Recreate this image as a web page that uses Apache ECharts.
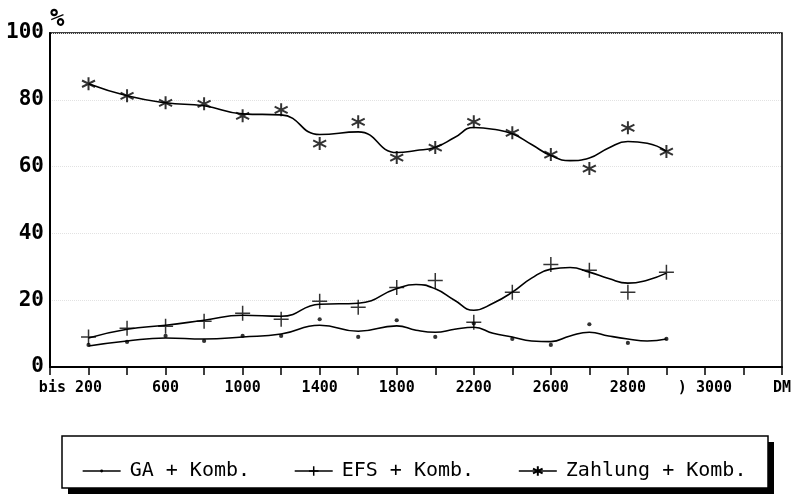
<!DOCTYPE html>
<html>
<head>
<meta charset="utf-8">
<script src="https://cdn.jsdelivr.net/npm/echarts@6/dist/echarts.min.js"></script>
<style>
  html, body { margin: 0; padding: 0; background: #fff; }
  #chart { width: 800px; height: 503px; }
</style>
</head>
<body>
<div id="chart"></div>
<script>
// positions on the income axis (one step = 200 DM)
const xPos = [1, 2, 3, 4, 5, 6, 7, 8, 9, 10, 11, 12, 13, 14, 15, 16];
// tick labels, index = position on the axis ("200" sits on the tick, "bis" hangs left)
const xTickLabels = ['', 'bis 200    ', '', '600', '', '1000', '', '1400', '', '1800', '', '2200', '', '2600', '', '2800', '', ') 3000', '', 'DM'];
const yTicks = [0, 20, 40, 60, 80, 100];

const seriesNames = ['GA + Komb.', 'EFS + Komb.', 'Zahlung + Komb.'];

// measured points
const gaPoints = [6.6, 7.5, 9.3, 7.8, 9.3, 9.3, 14.3, 9.0, 14.0, 9.0, 13.0, 8.4, 6.6, 12.8, 7.2, 8.4];
const efsPoints = [9.0, 11.6, 12.2, 13.7, 16.1, 14.3, 19.7, 17.9, 23.8, 25.9, 13.4, 22.4, 30.7, 29.0, 22.4, 28.4];
const zahlungPoints = [84.8, 81.2, 79.1, 78.8, 75.2, 77.0, 66.9, 73.4, 62.7, 65.7, 73.4, 70.1, 63.6, 59.4, 71.6, 64.5];

const curveX = [1, 2, 3, 4, 5, 6, 7, 8, 9, 9.5, 10, 10.5, 11, 11.5, 12, 12.5, 13, 13.5, 14, 14.5, 15, 15.5, 16];
const gaCurve = [6.3, 7.8, 8.7, 8.4, 9.0, 9.9, 12.5, 10.7, 12.3, 11.0, 10.4, 11.3, 11.9, 10.1, 9.0, 7.8, 7.6, 9.3, 10.4, 9.3, 8.4, 7.8, 8.4];
const efsCurve = [8.7, 11.3, 12.5, 14.0, 15.5, 15.2, 18.8, 19.1, 23.5, 24.7, 23.4, 20.0, 17.0, 19.1, 22.4, 26.6, 29.3, 29.8, 28.4, 26.5, 25.1, 26.0, 28.1];
const zahlungCurve = [84.8, 81.2, 79.1, 78.2, 75.8, 75.5, 69.6, 70.4, 64.2, 64.8, 65.8, 68.7, 71.7, 71.2, 69.8, 66.6, 63.3, 61.8, 62.6, 65.6, 67.5, 67.0, 64.6];

const FONT = 'DejaVu Sans Mono';
// dot drawn inside an invisible 10x10 box so it stays small at the legend size too
const dotPath = 'path://M0,0M10,10M3.5,5a1.5,1.5 0 1 0 3,0a1.5,1.5 0 1 0 -3,0z';
const starPath = 'path://M5,0L5,10M0.7,2.5L9.3,7.5M0.7,7.5L9.3,2.5';
const plusPath = 'path://M5,0L5,10M0,5L10,5';

function pairs(xs, vals) {
  return vals.map((v, i) => [xs[i], v]);
}

const symbols = [
  { symbol: dotPath, size: 14, style: { color: '#000' } },
  { symbol: plusPath, size: 15, style: { color: 'rgba(0,0,0,0)', borderColor: '#000', borderWidth: 1.5 } },
  { symbol: starPath, size: 13, style: { color: 'rgba(0,0,0,0)', borderColor: '#000', borderWidth: 2 } },
];
const curves = [gaCurve, efsCurve, zahlungCurve];
const points = [gaPoints, efsPoints, zahlungPoints];

let series = [];
seriesNames.forEach((name, i) => {
  series.push({
    name: name,
    type: 'line',
    data: pairs(curveX, curves[i]),
    smooth: 0.5,
    showSymbol: false,
    symbol: symbols[i].symbol,
    symbolSize: symbols[i].size,
    itemStyle: symbols[i].style,
    lineStyle: { color: '#000', width: 1.6 },
    silent: true,
  });
  series.push({
    name: name + ' Werte',
    type: 'scatter',
    data: pairs(xPos, points[i]),
    symbol: symbols[i].symbol,
    symbolSize: symbols[i].size,
    itemStyle: symbols[i].style,
    silent: true,
  });
});

let chart = echarts.init(document.getElementById('chart'));
let option = {
  backgroundColor: '#fff',
  animation: false,
  grid: {
    left: 50,
    right: 18,
    top: 33,
    bottom: 136,
    show: true,
    borderColor: '#000',
    borderWidth: 1.5,
  },
  xAxis: {
    type: 'value',
    min: 0,
    max: 19,
    interval: 1,
    axisLine: { lineStyle: { color: '#000', width: 2 } },
    axisTick: { show: true, length: 8, lineStyle: { color: '#000', width: 1.5 } },
    splitLine: { show: false },
    axisLabel: {
      color: '#000',
      fontFamily: FONT,
      fontWeight: 'bold',
      fontSize: 15,
      margin: 14,
      showMinLabel: true,
      showMaxLabel: true,
      formatter: (v) => xTickLabels[Math.round(v)] || '',
    },
  },
  yAxis: {
    type: 'value',
    min: yTicks[0],
    max: yTicks[yTicks.length - 1],
    interval: 20,
    name: '%',
    nameGap: 1,
    nameTextStyle: { color: '#000', fontFamily: FONT, fontWeight: 'bold', fontSize: 24, align: 'left' },
    axisLine: { show: true, lineStyle: { color: '#000', width: 2 } },
    axisTick: { show: false },
    splitLine: { show: true, lineStyle: { color: '#e2e2e2', type: 'dotted', width: 1 } },
    axisLabel: {
      color: '#000',
      fontFamily: FONT,
      fontWeight: 'bold',
      fontSize: 21,
      margin: 6,
    },
  },
  legend: {
    data: seriesNames.map((n, i) => ({ name: n, itemStyle: symbols[i].style })),
    left: 77,
    top: 456,
    itemWidth: 38,
    itemHeight: 12,
    itemGap: 44,
    lineStyle: { color: '#000', width: 1.3 },
    textStyle: { color: '#000', fontFamily: FONT, fontSize: 20, padding: [0, 0, 0, 4] },
    selectedMode: false,
  },
  graphic: [
    {
      type: 'rect',
      shape: { x: 68, y: 442, width: 706, height: 52 },
      style: { fill: '#000' },
      z: -2,
    },
    {
      type: 'rect',
      shape: { x: 62, y: 436, width: 706, height: 52 },
      style: { fill: '#fff', stroke: '#000', lineWidth: 1.5 },
      z: -1,
    },
  ],
  series: series,
};
option && chart.setOption(option);
</script>
</body>
</html>
